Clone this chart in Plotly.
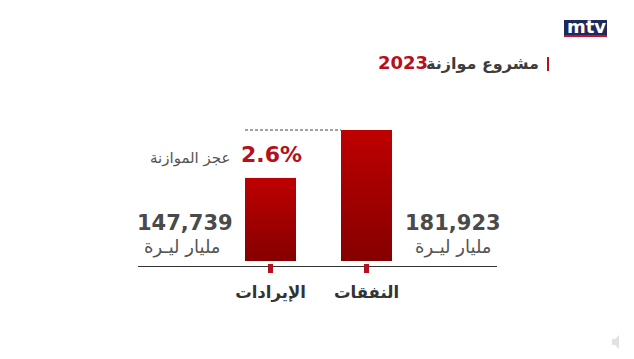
import base64, struct, zlib
import plotly.graph_objects as go

categories = ["الإيرادات", "النفقات"]
values = [147739, 181923]
value_labels = ["147,739", "181,923"]
unit_label = "مليار ليـرة"
axis_base = 88525
deficit_label = "عجز الموازنة"
deficit_value = "2.6%"
title_text = "مشروع موازنة"
title_year = "2023"

W, H = 634, 359
PAGE = 8  # default body margin of the written page
L, R, T, B = 138, 497, 100, 263
UNIT_PER_PX = (values[1] - axis_base) / 131
FONT = "DejaVu Sans"
BAR_W = 51 / 96

def px(x):
    return (x - L) / (R - L)

def py(y):
    return (B - y) / (B - T)

def png_gradient(top, bottom, n=64):
    raw = b""
    for i in range(n):
        t = i / (n - 1)
        raw += b"\0" + bytes(round(a + (b - a) * t) for a, b in zip(top, bottom))
    def chunk(tag, data):
        return struct.pack(">I", len(data)) + tag + data + struct.pack(">I", zlib.crc32(tag + data))
    png = b"\x89PNG\r\n\x1a\n" + chunk(b"IHDR", struct.pack(">IIBBBBB", 1, n, 8, 2, 0, 0, 0))
    png += chunk(b"IDAT", zlib.compress(raw)) + chunk(b"IEND", b"")
    return "data:image/png;base64," + base64.b64encode(png).decode()

positions = list(range(len(categories)))
fig = go.Figure(go.Bar(
    x=positions, y=[v - axis_base for v in values], base=axis_base,
    width=BAR_W, marker=dict(color="#a80000", line_width=0),
    hoverinfo="skip",
))

grad = png_gradient((190, 0, 0), (135, 0, 0))
images = [dict(source=grad, xref="x", yref="y", x=p, y=v, sizex=BAR_W, sizey=v - axis_base,
               xanchor="center", yanchor="top", sizing="stretch", layer="above")
          for p, v in zip(positions, values)]

def text(x, y, s, size, color="#484848", anchor="center", bold=False):
    fig.add_annotation(xref="paper", yref="paper", x=px(x), y=py(y), text=f"<b>{s}</b>" if bold else s,
                       showarrow=False, xanchor=anchor, yanchor="middle",
                       font=dict(family=FONT, size=size, color=color), borderpad=0)

text(185, 223, value_labels[0], 21, "#4a4a4a", bold=True)
text(453, 223, value_labels[1], 21, "#4a4a4a", bold=True)
text(182, 247, unit_label, 18, "#555555")
text(453, 247, unit_label, 18, "#555555")
text(231, 158, deficit_label, 15, "#555555", "right")
text(271, 154, deficit_value, 22, "#b5101c", bold=True)
text(540, 63, title_text, 16, "#3c3c3c", "right", bold=True)
text(403, 62, title_year, 18, "#b5101c", bold=True)
text(586, 27, "mtv", 18, "#ffffff", bold=True)

def rect(x0, y0, x1, y1, color):
    fig.add_shape(type="rect", xref="paper", yref="paper", x0=px(x0), x1=px(x1), y0=py(y0), y1=py(y1),
                  fillcolor=color, line_width=0)

rect(564, 20, 607, 35, "#1d2a5c")
rect(564, 35, 607, 37, "#c4122f")
rect(547, 57, 549, 71, "#b5101c")

# speaker icon
fig.add_shape(type="path", xref="paper", yref="paper",
              path=f"M {px(612)} {py(339)} L {px(615)} {py(339)} L {px(619)} {py(335)} L {px(619)} {py(349)} L {px(615)} {py(345)} L {px(612)} {py(345)} Z",
              fillcolor="#e2e2e2", line_width=0)

# baseline
fig.add_shape(type="line", xref="paper", yref="paper", x0=0, x1=1, y0=py(266.5), y1=py(266.5),
              line=dict(color="#333333", width=1), layer="below")
# dashed top guide
fig.add_shape(type="line", xref="x", yref="y", x0=positions[0] - BAR_W / 2, x1=positions[1] - BAR_W / 2,
              y0=values[1], y1=values[1], line=dict(color="#444444", width=1, dash="3px,2px"))

fig_w, fig_h = W - PAGE, H - 2 * PAGE
fig.update_layout(
    width=fig_w, height=fig_h,
    margin=dict(l=L - PAGE, r=fig_w - (R - PAGE), t=T - PAGE, b=fig_h - (B - PAGE)),
    paper_bgcolor="white", plot_bgcolor="white", showlegend=False, images=images,
    xaxis=dict(range=[(L - 270.5) / 96, (R - 270.5) / 96], tickvals=positions, ticktext=categories,
               ticks="outside", ticklen=9, tickwidth=5, tickcolor="#b5101c", showgrid=False,
               zeroline=False, showline=False, ticklabelstandoff=5,
               tickfont=dict(family=FONT, size=16.5, color="#333333", weight="bold")),
    yaxis=dict(range=[axis_base - 2 * UNIT_PER_PX, axis_base + (261 - T) * UNIT_PER_PX], visible=False),
)
fig.write_html("out.html", config=dict(displayModeBar=False))
